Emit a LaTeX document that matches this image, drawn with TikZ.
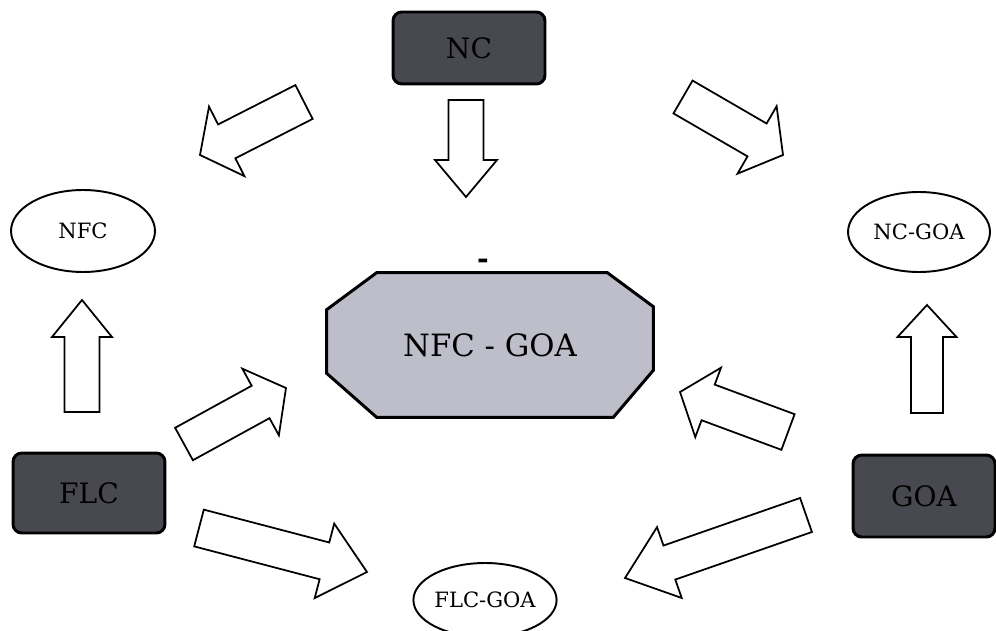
\documentclass[tikz,border=0pt]{standalone}
\usepackage{fontspec}
\setmainfont{DejaVu Serif}
\usetikzlibrary{calc, shapes.geometric, backgrounds}

\definecolor{boxdark}{RGB}{72,72,80}
\definecolor{boxlight}{RGB}{190,190,202}

% hollow block arrow: tail, tip, shaft half width, head half width, head length
\newcommand{\blockarrow}[5]{%
  \coordinate (ba-h) at ($(#2)!#5!(#1)$);
  \draw[blockarr] ($(#1)!#3!90:(#2)$) -- ($(ba-h)!#3!-90:(#1)$)
    -- ($(ba-h)!#4!-90:(#1)$) -- (#2) -- ($(ba-h)!#4!90:(#1)$)
    -- ($(ba-h)!#3!90:(#1)$) -- ($(#1)!#3!-90:(#2)$) -- cycle;
}

\begin{document}
\begin{tikzpicture}[
  x=0.02cm, y=-0.02cm,
  darkbox/.style={draw=black, line width=1.7pt, fill=boxdark, rounded corners=5pt,
                  font=\fontsize{16}{19}\selectfont, text=black, inner sep=0pt},
  oval/.style={ellipse, draw=black, line width=1.1pt, fill=white, inner sep=0pt,
               font=\fontsize{12}{14}\selectfont},
  centretext/.style={inner sep=0pt, font=\fontsize{17.5}{21}\selectfont},
  centrefill/.style={draw=black, line width=1.7pt, fill=boxlight},
  blockarr/.style={draw=black, line width=1pt, fill=white, line join=miter},
]
\useasboundingbox (0,0) rectangle (996,631);

\node[darkbox, minimum width=3.04cm, minimum height=1.44cm] (nc) at (469,48) {NC};
\node[darkbox, minimum width=3.04cm, minimum height=1.6cm] (flc) at (89,493) {FLC};
\node[darkbox, minimum width=2.84cm, minimum height=1.64cm] (goa) at (924,496) {GOA};

\node[oval, minimum width=2.88cm, minimum height=1.64cm] (nfc) at (83,231) {NFC};
\node[oval, minimum width=2.84cm, minimum height=1.6cm] (ncgoa) at (919,232) {NC-GOA};
\node[oval, minimum width=2.86cm, minimum height=1.48cm] (flcgoa) at (485,600) {FLC-GOA};

\node[centretext, minimum width=6.52cm, minimum height=2.88cm] (nfcgoa) at (490,345) {NFC - GOA};
\begin{scope}[on background layer]
\draw[centrefill] ($(nfcgoa.north west)+(50,0)$) -- ($(nfcgoa.north east)+(-46,0)$)
  -- ($(nfcgoa.north east)+(0,34)$) -- ($(nfcgoa.south east)+(0,-47)$)
  -- ($(nfcgoa.south east)+(-40,0)$) -- ($(nfcgoa.south west)+(50,0)$)
  -- ($(nfcgoa.south west)+(0,-44)$) -- ($(nfcgoa.north west)+(0,37)$) -- cycle;
\end{scope}
\node[font=\fontsize{16}{18}\selectfont\bfseries, inner sep=0pt] (dash) at (483,264) {-};

% arrow ends
\coordinate (nc-nfc-a) at (304,102);     \coordinate (nc-nfc-b) at (200,155);
\coordinate (nc-ncgoa-a) at (683,97);    \coordinate (nc-ncgoa-b) at (783,155);
\coordinate (nc-mid-a) at (466,100);     \coordinate (nc-mid-b) at (466,197);
\coordinate (flc-nfc-a) at (82,412);     \coordinate (flc-nfc-b) at (82,300);
\coordinate (goa-ncgoa-a) at (927,413);  \coordinate (goa-ncgoa-b) at (927,305);
\coordinate (flc-mid-a) at (184,444);    \coordinate (flc-mid-b) at (286,388);
\coordinate (goa-mid-a) at (788,432);    \coordinate (goa-mid-b) at (680,392);
\coordinate (flc-low-a) at (199,528);    \coordinate (flc-low-b) at (367,572);
\coordinate (goa-low-a) at (806,515);    \coordinate (goa-low-b) at (625,578);

\blockarrow{nc-nfc-a}{nc-nfc-b}{0.38cm}{0.78cm}{0.6cm}
\blockarrow{nc-ncgoa-a}{nc-ncgoa-b}{0.38cm}{0.78cm}{0.6cm}
\blockarrow{nc-mid-a}{nc-mid-b}{0.35cm}{0.62cm}{0.74cm}
\blockarrow{flc-nfc-a}{flc-nfc-b}{0.35cm}{0.6cm}{0.74cm}
\blockarrow{goa-ncgoa-a}{goa-ncgoa-b}{0.32cm}{0.59cm}{0.64cm}
\blockarrow{flc-mid-a}{flc-mid-b}{0.37cm}{0.76cm}{0.58cm}
\blockarrow{goa-mid-a}{goa-mid-b}{0.38cm}{0.74cm}{0.6cm}
\blockarrow{flc-low-a}{flc-low-b}{0.38cm}{0.77cm}{0.88cm}
\blockarrow{goa-low-a}{goa-low-b}{0.36cm}{0.75cm}{0.94cm}
\end{tikzpicture}
\end{document}
